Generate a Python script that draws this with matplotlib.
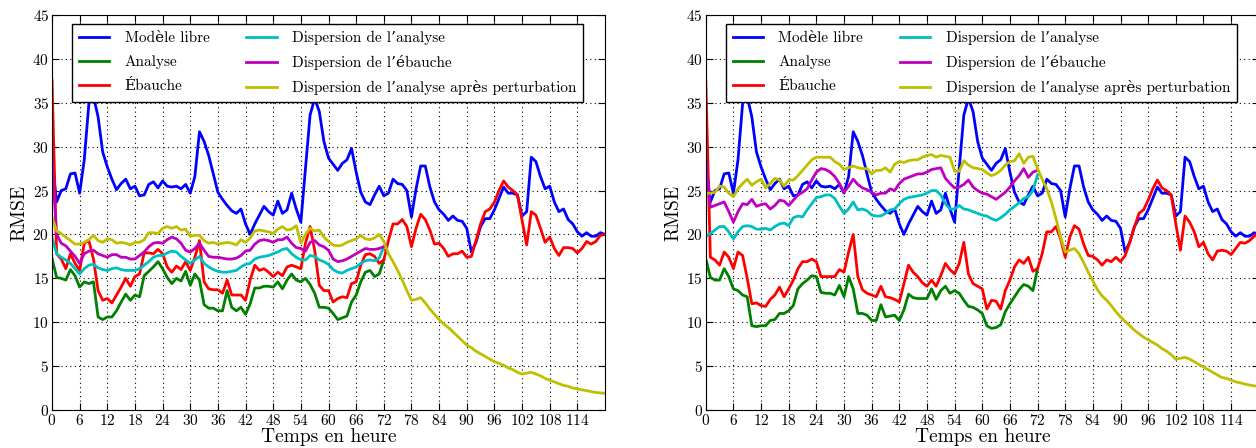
import numpy as np
import matplotlib
matplotlib.use('Agg')
import matplotlib.pyplot as plt

plt.rcParams['font.family'] = ['cmr10', 'DejaVu Serif']
plt.rcParams['mathtext.fontset'] = 'cm'
plt.rcParams['axes.formatter.use_mathtext'] = True

hours = np.arange(0, 121)      # 0 .. 120 h
hours_da = np.arange(0, 73)    # assimilation window 0 .. 72 h

xticks = list(range(0, 120, 6))
yticks = list(range(0, 50, 5))

labels = ['Modèle libre', 'Analyse', 'Ébauche',
          "Dispersion de l’analyse", "Dispersion de l’ébauche",
          "Dispersion de l’analyse après perturbation"]

# free model run (same in both panels)
modele_libre = [28.5, 23.7, 25.0, 25.2, 26.9, 27.0, 24.7, 28.5, 34.9, 35.7,
                33.4, 29.4, 27.7, 26.3, 25.1, 25.8, 26.3, 25.2, 25.5, 24.4,
                24.5, 25.7, 26.0, 25.3, 26.1, 25.5, 25.4, 25.5, 25.2, 25.7,
                24.7, 26.6, 31.7, 30.6, 29.0, 26.9, 24.8, 24.0, 23.3, 22.7,
                22.4, 22.9, 21.2, 20.0, 21.2, 22.2, 23.2, 22.6, 22.2, 23.8,
                22.4, 22.8, 24.7, 22.9, 21.4, 27.5, 33.6, 35.5, 34.0, 30.6,
                28.7, 28.0, 27.3, 28.1, 28.5, 29.8, 27.1, 24.8, 23.7, 23.4,
                24.5, 25.5, 24.4, 24.7, 26.3, 25.8, 25.7, 25.0, 22.0, 25.2,
                27.8, 27.8, 25.4, 23.7, 22.8, 22.3, 21.6, 22.1, 21.6, 21.5,
                20.7, 18.0, 19.1, 20.9, 21.8, 21.8, 22.8, 24.1, 25.4, 24.7,
                24.7, 24.5, 22.1, 22.6, 28.8, 28.3, 26.6, 25.2, 25.5, 23.7,
                22.6, 22.9, 21.7, 21.2, 20.3, 19.8, 20.2, 19.8, 19.8, 20.2,
                20.0]

# ---- left panel
ebauche_1 = [37.6, 17.8, 17.2, 16.1, 17.8, 16.7, 15.9, 19.0, 19.3, 17.2,
             13.6, 12.5, 12.7, 12.2, 13.1, 14.0, 15.0, 14.1, 15.2, 15.5,
             17.9, 17.9, 17.8, 18.3, 17.8, 16.3, 15.7, 16.4, 16.0, 16.9,
             15.9, 17.4, 19.3, 14.6, 13.8, 13.7, 13.7, 13.3, 14.8, 13.1,
             13.1, 13.1, 12.5, 14.8, 16.5, 15.9, 16.1, 15.7, 15.2, 15.7,
             15.3, 16.3, 16.5, 16.3, 16.1, 19.0, 20.9, 18.2, 14.2, 13.6,
             13.6, 12.3, 12.7, 12.9, 12.8, 14.4, 14.6, 16.5, 17.7, 17.8,
             17.5, 16.7, 17.1, 19.3, 21.2, 21.2, 21.7, 20.9, 18.6, 20.7,
             22.3, 21.7, 20.5, 18.9, 19.0, 18.4, 17.5, 17.8, 17.8, 18.1,
             17.4, 17.5, 19.3, 21.2, 22.6, 22.9, 23.7, 25.0, 26.1, 25.4,
             25.0, 24.5, 21.6, 18.8, 22.6, 22.2, 20.7, 19.1, 19.7, 18.4,
             17.6, 18.5, 18.5, 18.4, 17.9, 18.4, 19.2, 18.9, 19.2, 19.9,
             20.0]
analyse_1 = [17.3, 15.1, 15.0, 14.8, 16.0, 15.3, 14.0, 14.6, 14.4, 14.6,
             10.6, 10.3, 10.6, 10.6, 11.3, 12.3, 13.2, 12.5, 13.1, 12.9,
             15.3, 15.8, 16.3, 16.9, 16.1, 15.1, 14.4, 15.0, 14.7, 15.8,
             14.2, 15.5, 14.8, 12.0, 11.6, 11.6, 11.3, 11.3, 13.6, 11.7,
             11.3, 11.7, 10.9, 12.1, 13.9, 13.9, 14.1, 14.1, 14.0, 14.6,
             13.8, 14.8, 15.5, 14.8, 14.6, 15.0, 14.3, 13.3, 11.7, 11.7,
             11.6, 11.0, 10.3, 10.5, 10.7, 12.3, 13.1, 14.6, 15.7, 15.9,
             15.2, 15.5, 17.1]
disp_analyse_1 = [19.7, 17.8, 17.4, 17.1, 16.7, 16.1, 15.5, 16.1, 16.5, 16.6,
                  16.2, 16.0, 15.9, 16.1, 16.2, 16.0, 15.9, 15.9, 15.9, 16.1,
                  16.5, 16.9, 17.4, 17.6, 17.6, 17.9, 18.1, 18.0, 17.5, 17.1,
                  16.7, 17.1, 17.5, 16.7, 16.3, 16.0, 15.8, 15.7, 15.7, 15.8,
                  15.9, 16.3, 16.6, 16.7, 17.2, 17.4, 17.5, 17.6, 17.8, 18.0,
                  18.3, 18.4, 17.8, 17.4, 17.1, 17.1, 17.6, 17.5, 17.1, 16.9,
                  16.6, 16.0, 15.7, 15.6, 15.9, 16.1, 16.3, 16.7, 17.0, 17.1,
                  17.0, 17.3, 18.6]
disp_ebauche_1 = [28.6, 20.0, 19.0, 18.7, 18.1, 17.5, 16.7, 17.8, 18.1, 18.2,
                  17.8, 17.6, 17.4, 17.7, 17.7, 17.4, 17.4, 17.2, 17.2, 17.6,
                  18.0, 18.6, 19.0, 19.1, 19.0, 19.4, 19.7, 19.5, 19.0, 18.2,
                  18.0, 18.4, 19.0, 18.2, 17.5, 17.4, 17.4, 17.3, 17.2, 17.2,
                  17.3, 17.6, 18.1, 18.2, 18.9, 19.3, 19.4, 19.3, 19.1, 19.4,
                  19.4, 19.7, 19.0, 18.5, 18.4, 18.1, 19.1, 19.3, 18.8, 18.6,
                  18.2, 17.2, 16.9, 17.0, 17.2, 17.5, 17.8, 18.1, 18.4, 18.3,
                  18.3, 18.4, 18.6]
disp_pert_1 = [22.0, 20.4, 20.1, 19.7, 19.3, 18.9, 18.9, 19.1, 19.4, 19.9,
               19.3, 19.1, 19.5, 19.4, 19.0, 19.1, 19.0, 18.8, 19.1, 19.1,
               19.4, 20.2, 20.2, 20.1, 20.7, 20.9, 20.7, 20.9, 20.5, 20.6,
               19.8, 19.9, 19.9, 19.3, 19.0, 19.1, 18.9, 19.0, 19.1, 19.0,
               18.8, 19.4, 19.1, 19.6, 20.4, 20.5, 20.4, 20.3, 20.1, 20.6,
               20.9, 20.5, 20.6, 21.0, 19.0, 20.0, 20.7, 20.4, 20.5, 19.7,
               19.2, 18.8, 18.7, 18.8, 19.1, 19.3, 19.5, 19.9, 19.5, 19.4,
               19.6, 20.0, 19.2, 17.8, 16.9, 15.9, 14.8, 13.6, 12.5, 12.6,
               12.8, 12.2, 11.5, 10.9, 10.3, 9.8, 9.4, 8.9, 8.4, 7.9,
               7.4, 7.1, 6.7, 6.4, 6.1, 5.8, 5.5, 5.3, 5.1, 4.8,
               4.6, 4.3, 4.1, 4.2, 4.3, 4.1, 3.9, 3.6, 3.4, 3.2,
               3.0, 2.8, 2.7, 2.5, 2.4, 2.3, 2.2, 2.1, 2.0, 1.95,
               1.9]

# ---- right panel
ebauche_2 = [37.6, 17.4, 17.1, 16.5, 18.0, 17.4, 16.1, 18.0, 17.6, 15.0,
             12.1, 12.2, 11.9, 11.8, 12.6, 13.1, 14.0, 12.9, 13.8, 14.8,
             16.1, 16.9, 16.9, 17.2, 16.9, 15.2, 15.2, 15.2, 15.2, 16.0,
             15.7, 18.0, 20.0, 15.2, 13.7, 13.3, 13.1, 12.9, 14.1, 12.9,
             12.8, 12.6, 12.3, 14.4, 16.5, 15.7, 15.2, 14.5, 14.1, 14.8,
             14.1, 15.3, 16.7, 16.0, 15.5, 16.7, 19.1, 15.5, 14.4, 14.1,
             13.8, 11.5, 12.5, 12.4, 11.5, 13.6, 14.8, 16.3, 17.1, 16.7,
             17.4, 15.8, 16.1, 17.8, 20.3, 20.3, 20.9, 19.5, 17.4, 19.7,
             21.0, 20.6, 18.9, 17.6, 17.5, 17.1, 16.5, 17.1, 16.9, 17.4,
             16.9, 17.6, 19.1, 20.8, 22.4, 22.8, 23.9, 25.2, 26.2, 25.3,
             25.0, 24.5, 21.2, 18.2, 22.1, 21.4, 20.3, 18.6, 19.1, 17.8,
             17.1, 18.1, 18.2, 18.1, 17.7, 18.4, 19.1, 19.0, 19.3, 19.8,
             20.2]
analyse_2 = [17.3, 15.1, 14.8, 14.8, 16.1, 15.2, 13.8, 13.6, 13.1, 12.9,
             9.6, 9.5, 9.6, 9.6, 10.2, 10.3, 11.0, 11.0, 11.3, 11.9,
             13.8, 14.4, 14.8, 15.3, 15.2, 13.4, 13.3, 13.3, 13.1, 14.2,
             12.9, 15.2, 13.8, 11.0, 11.0, 10.8, 10.2, 10.2, 12.0, 10.6,
             10.7, 10.8, 10.2, 11.4, 13.2, 12.8, 12.7, 12.7, 12.7, 13.8,
             12.6, 13.6, 14.1, 13.3, 13.6, 13.3, 12.5, 11.8, 11.7, 11.4,
             11.0, 9.6, 9.3, 9.4, 9.7, 11.2, 12.1, 12.9, 13.7, 14.3,
             14.1, 13.6, 16.1]
disp_analyse_2 = [19.8, 20.1, 20.5, 20.9, 20.9, 20.3, 19.5, 20.3, 20.9, 21.0,
                  20.9, 20.6, 20.6, 20.7, 20.5, 20.9, 21.2, 21.3, 21.0, 21.9,
                  22.1, 22.0, 22.8, 23.5, 24.2, 24.3, 24.5, 24.5, 24.1, 23.2,
                  22.4, 22.9, 23.7, 22.8, 22.9, 22.7, 22.2, 22.1, 22.1, 22.4,
                  22.8, 22.9, 23.5, 24.0, 24.2, 24.3, 24.4, 24.5, 24.7, 25.0,
                  25.0, 24.5, 23.5, 22.9, 22.9, 23.3, 22.9, 22.8, 22.6, 22.4,
                  22.2, 22.1, 21.8, 21.6, 21.9, 22.3, 22.8, 23.2, 23.6, 24.1,
                  24.3, 25.0, 26.8]
disp_ebauche_2 = [28.8, 23.1, 23.3, 23.5, 23.7, 22.6, 21.4, 22.6, 23.5, 23.4,
                  24.0, 23.2, 23.4, 23.5, 22.9, 23.3, 23.9, 23.8, 23.3, 23.9,
                  24.5, 24.8, 25.2, 26.2, 27.1, 27.5, 27.4, 27.1, 26.6, 25.8,
                  24.8, 25.5, 26.3, 25.7, 25.3, 25.1, 24.8, 24.5, 24.7, 24.7,
                  25.2, 25.0, 25.8, 26.3, 26.5, 26.7, 26.9, 26.9, 27.1, 27.4,
                  27.5, 27.6, 26.4, 25.8, 25.3, 25.4, 25.7, 26.2, 25.4, 25.0,
                  24.7, 24.6, 24.3, 24.0, 24.4, 24.8, 25.4, 26.1, 26.7, 27.5,
                  26.5, 27.1, 27.3]
disp_pert_2 = [24.7, 24.7, 24.8, 25.5, 25.4, 24.7, 24.3, 25.2, 25.8, 26.3,
               25.6, 26.0, 26.3, 25.3, 25.8, 26.4, 26.2, 25.5, 26.2, 26.2,
               26.7, 27.3, 27.9, 28.5, 28.8, 28.8, 28.8, 28.8, 28.3, 28.0,
               27.4, 27.6, 27.8, 27.6, 27.5, 27.5, 26.9, 27.3, 27.3, 27.6,
               27.1, 28.0, 28.3, 28.2, 28.4, 28.5, 28.5, 28.8, 29.0, 29.1,
               28.8, 29.0, 28.9, 28.8, 27.2, 27.2, 28.4, 27.9, 27.6, 27.5,
               27.4, 27.0, 26.7, 26.9, 27.3, 27.9, 28.3, 28.4, 29.2, 28.1,
               28.8, 28.9, 27.5, 26.3, 25.2, 23.7, 21.8, 19.7, 18.0, 18.2,
               18.4, 17.8, 16.8, 15.7, 14.7, 13.7, 13.0, 12.5, 11.9, 11.2,
               10.6, 10.1, 9.6, 9.1, 8.7, 8.3, 8.0, 7.7, 7.4, 7.0,
               6.7, 6.3, 5.8, 5.9, 6.0, 5.8, 5.5, 5.2, 4.9, 4.6,
               4.3, 4.0, 3.7, 3.6, 3.4, 3.2, 3.1, 2.95, 2.85, 2.75,
               2.65]


def draw(ax, analyse, ebauche, disp_a, disp_e, disp_p):
    ax.plot(hours, modele_libre, color='b', lw=2, label=labels[0])
    ax.plot(hours_da, analyse, color='g', lw=2, label=labels[1])
    ax.plot(hours, ebauche, color='r', lw=2, label=labels[2])
    ax.plot(hours_da, disp_a, color='c', lw=2, label=labels[3])
    ax.plot(hours_da, disp_e, color='m', lw=2, label=labels[4])
    ax.plot(hours, disp_p, color='y', lw=2, label=labels[5])
    ax.set_xlim(0, 120)
    ax.set_ylim(0, 45)
    ax.set_xticks(xticks)
    ax.set_yticks(yticks)
    ax.grid(True, linestyle=(0, (1, 3)), color='k', linewidth=0.8)
    ax.tick_params(direction='in', top=True, right=True, length=5,
                   labelsize=11, pad=2)
    ax.set_xlabel('Temps en heure', fontsize=14, labelpad=0)
    ax.set_ylabel('RMSE', fontsize=14, labelpad=3)
    leg = ax.legend(loc='upper left', bbox_to_anchor=(0.036, 0.977),
                    borderaxespad=0, ncol=2, fontsize=11, fancybox=False,
                    handlelength=2.0, handletextpad=1.0, columnspacing=2.4,
                    labelspacing=0.65, borderpad=0.45)
    leg.get_frame().set_edgecolor('k')
    leg.get_frame().set_alpha(1)


fig = plt.figure(figsize=(12.56, 4.48), dpi=100)
ax1 = fig.add_axes([0.0414, 0.0848, 0.4403, 0.8817])
ax2 = fig.add_axes([0.5619, 0.0848, 0.4403, 0.8817])

draw(ax1, analyse_1, ebauche_1, disp_analyse_1, disp_ebauche_1, disp_pert_1)
draw(ax2, analyse_2, ebauche_2, disp_analyse_2, disp_ebauche_2, disp_pert_2)

fig.savefig('out.png', dpi=100)
